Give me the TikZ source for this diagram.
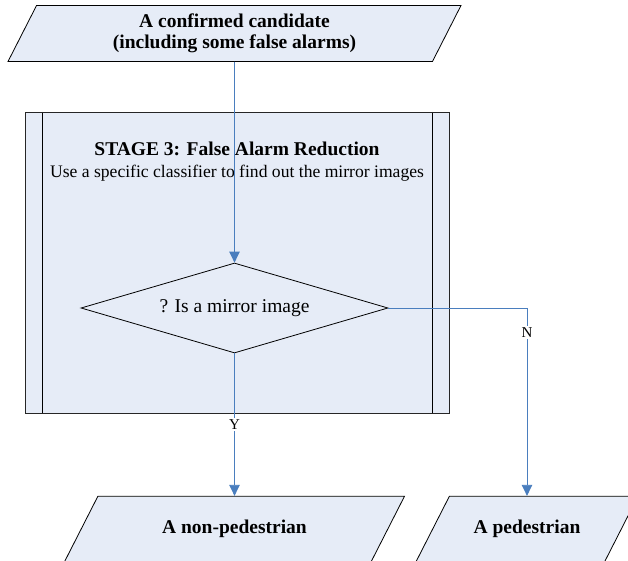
\documentclass[tikz,border=0pt]{standalone}
\usepackage{fontspec}
\setmainfont{Liberation Serif}
\usepackage{xcolor}
\usepackage{tikz}
\usetikzlibrary{arrows.meta, positioning, shapes.geometric}

\definecolor{boxfill}{RGB}{230,236,247}
\definecolor{linkblue}{RGB}{74,126,190}

\begin{document}
\begin{tikzpicture}[
            x=1pt, y=1pt,
            io/.style={
                trapezium,
                trapezium left angle=63,
                trapezium right angle=117,
                trapezium stretches body=true,
                draw=black,
                line width=0.8pt,
                fill=boxfill,
                inner xsep=0pt,
                align=center,
                font=\fontsize{19.5}{21}\selectfont\bfseries
            },
            result/.style={
                io,
                text height=13pt,
                text depth=4.5pt,
                inner ysep=24pt
            },
            process/.style={
                rectangle,
                draw=black!85,
                line width=0.9pt,
                fill=boxfill,
                minimum width=424,
                minimum height=301,
                path picture={
                    \draw[black, line width=0.9pt]
                        ([xshift=17pt]path picture bounding box.north west) -- ([xshift=17pt]path picture bounding box.south west)
                        ([xshift=-17pt]path picture bounding box.north east) -- ([xshift=-17pt]path picture bounding box.south east);
                }
            },
            decision/.style={
                diamond,
                draw=black,
                line width=0.8pt,
                fill=boxfill,
                aspect=3.4,
                inner sep=0pt,
                minimum width=307,
                minimum height=90,
                font=\fontsize{19.5}{23}\selectfont
            },
            flow/.style={
                draw=linkblue,
                line width=0.9pt,
                -{Triangle[length=11pt, width=10.5pt]}
            },
            answer/.style={
                fill=white,
                inner sep=1.5pt,
                font=\fontsize{15}{15}\selectfont
            }
        ]
            \useasboundingbox (0,0) rectangle (628,-561);

            % --- NODES ---
            \node [io, inner ysep=8.5pt, minimum width=453] (cand) at (234.5,-33.5) {
                A confirmed candidate \\
                (including some false alarms)
            };

            \node [process] (stage) at (237,-262.5) {};
            \node [align=center, font=\fontsize{17.6}{22}\selectfont] (stagelbl) at (237,-162) {
                \textbf{\fontsize{19.5}{22}\selectfont STAGE 3: False Alarm Reduction} \\
                Use a specific classifier to find out the mirror images
            };

            \node [decision] (mirror) at (234.5,-308) {? Is a mirror image};

            \node [result, minimum width=340] (nonped) at (234.5,-529) {A non-pedestrian};
            \node [result, minimum width=222] (ped) at (527,-529) {A pedestrian};

            % --- LINKS ---
            \path [flow] (cand) -- (mirror);
            \path [flow] (mirror) -- node[answer] {Y} (nonped);
            \path [flow] (mirror.east) -| node[answer, pos=0.565] {N} (ped);
        \end{tikzpicture}
\end{document}
